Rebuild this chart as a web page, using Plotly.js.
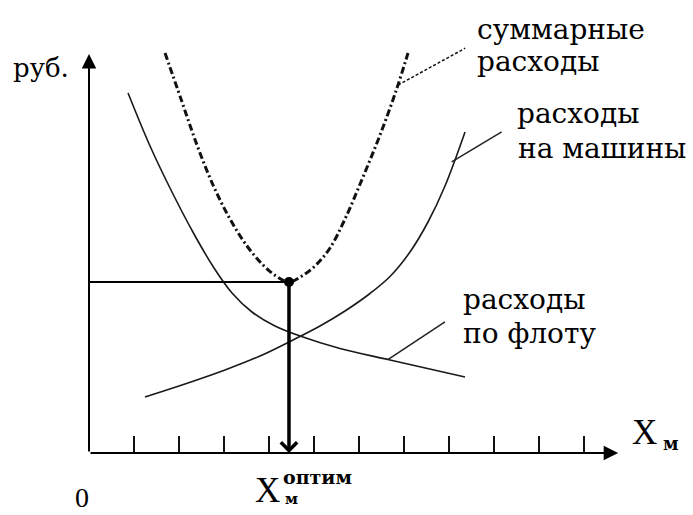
<!DOCTYPE html>
<html>
<head>
<meta charset="utf-8">
<script src="https://cdn.plot.ly/plotly-3.0.1.min.js"></script>
<style>html,body{margin:0;padding:0;background:#fff;}#chart{width:693px;height:515px;}</style>
</head>
<body>
<div id="chart"></div>
<script>
// ---- data (X_m in tick units, costs in rubles, arbitrary units) ----
const tickVals = [1, 2, 3, 4, 5, 6, 7, 8, 9, 10, 11];

const fleetX = [0.867, 1.356, 1.844, 2.333, 2.778, 3.178, 3.622, 4.133, 4.689, 5.578, 6.689, 8.356];
const fleetY = [90.0, 76.75, 65.25, 54.75, 46.25, 40.0, 35.25, 31.75, 29.25, 26.125, 23.25, 19.0];

const machX = [1.244, 2.133, 3.022, 3.8, 4.533, 5.133, 5.689, 6.244, 6.689, 7.133, 7.533, 7.911, 8.356];
const machY = [14.0, 17.25, 20.75, 24.25, 28.25, 31.75, 35.5, 39.875, 44.125, 50.25, 57.75, 66.75, 80.25];

const totalX = [1.689, 2.044, 2.4, 2.756, 3.133, 3.511, 3.867, 4.156, 4.444, 4.733, 5.044, 5.356, 5.689, 6.089, 6.467, 6.822, 7.089];
const totalY = [100.0, 88.5, 77.0, 67.0, 58.5, 51.75, 47.0, 44.25, 42.75, 44.25, 47.0, 51.25, 58.5, 69.0, 79.5, 90.5, 100.0];

const optX = [4.444];
const optY = [42.75];

const axisEnd = {x: 11.76, y: 99.75};

const leaderTotal = [[6.87, 92.0], [8.36, 101.2]];
const leaderMach = [[8.06, 72.8], [9.17, 80.3]];
const leaderFleet = [[6.65, 23.4], [7.91, 32.8]];

const labelTexts = ['суммарные', 'расходы', 'расходы', 'на машины', 'расходы', 'по флоту'];
const yLabel = 'руб.';
const xLabel = 'X';
const xSub = 'м';
const optSup = 'оптим';
const originLabel = '0';

// ---- layout geometry (pixels) ----
const W = 693, H = 515, L = 89, B = 62, T = 0, R = 0;
const plotW = W - L - R, plotH = H - T - B;
const pxX = px => (px - L) / plotW;
const pxY = py => (H - B - py) / plotH;

const lineCol = '#1a1a1a';

const traces = [
  {x: fleetX, y: fleetY, mode: 'lines', line: {color: lineCol, width: 1.6, shape: 'spline', smoothing: 1}, hoverinfo: 'skip'},
  {x: machX, y: machY, mode: 'lines', line: {color: lineCol, width: 1.6, shape: 'spline', smoothing: 1}, hoverinfo: 'skip'},
  {x: totalX, y: totalY, mode: 'lines', line: {color: '#111', width: 3, shape: 'spline', smoothing: 1, dash: '7px,3px,2px,3px'}, hoverinfo: 'skip'},
  {x: [0, optX[0]], y: [optY[0], optY[0]], mode: 'lines', line: {color: '#000', width: 2}, hoverinfo: 'skip'},
  {x: optX, y: optY, mode: 'markers', marker: {color: '#000', size: 10}, cliponaxis: false, hoverinfo: 'skip'}
];

const shapes = [
  {type: 'line', xref: 'x', yref: 'y', x0: leaderTotal[0][0], y0: leaderTotal[0][1], x1: leaderTotal[1][0], y1: leaderTotal[1][1], line: {color: '#111', width: 1.5, dash: '3px,2px'}},
  {type: 'line', xref: 'x', yref: 'y', x0: leaderMach[0][0], y0: leaderMach[0][1], x1: leaderMach[1][0], y1: leaderMach[1][1], line: {color: '#222', width: 1.5}},
  {type: 'line', xref: 'x', yref: 'y', x0: leaderFleet[0][0], y0: leaderFleet[0][1], x1: leaderFleet[1][0], y1: leaderFleet[1][1], line: {color: '#222', width: 1.5}}
];

const arrow = (x0, y0, x1, y1, w, head, size) => ({
  x: x1, y: y1, ax: x0, ay: y0, xref: 'x', yref: 'y', axref: 'x', ayref: 'y',
  text: '', showarrow: true, arrowhead: head, arrowsize: size, arrowwidth: w, arrowcolor: '#000', standoff: 0, startstandoff: 0
});

const txt = (t, px, py, size, family, bold, anchor, vanchor) => ({
  x: pxX(px), y: pxY(py), xref: 'paper', yref: 'paper', xanchor: anchor || 'left', yanchor: vanchor || 'middle',
  text: bold ? '<b>' + t + '</b>' : t, showarrow: false, borderpad: 0,
  font: {family: family, size: size, color: '#000'}
});

const serifLbl = 'DejaVu Serif';
const annotations = [
  arrow(0, 0, axisEnd.x, 0, 2, 2, 1.45),
  arrow(0, 0, 0, axisEnd.y, 2, 2, 1.45),
  arrow(optX[0], optY[0], optX[0], 0, 3.5, 4, 0.9),
  txt(labelTexts[0], 476, 29.5, 28, serifLbl),
  txt(labelTexts[1], 476, 61.5, 28, serifLbl),
  txt(labelTexts[2], 516, 113, 28, serifLbl),
  txt(labelTexts[3], 517, 148, 28, serifLbl),
  txt(labelTexts[4], 462, 299.5, 28, serifLbl),
  txt(labelTexts[5], 462, 333.5, 28, serifLbl),
  txt(yLabel, 12, 68, 26, serifLbl),
  txt(originLabel, 82, 514, 28, 'Liberation Serif', false, 'center', 'bottom'),
  txt(xLabel, 631, 432.5, 35, 'Liberation Serif'),
  txt(xSub, 662, 443, 18, serifLbl, true),
  txt(xLabel, 254, 490, 35, 'Liberation Serif'),
  txt(optSup, 282, 477, 19, serifLbl, true),
  txt(xSub, 284, 499, 15, serifLbl, true)
];

const layout = {
  width: W, height: H,
  margin: {l: L, r: R, t: T, b: B, pad: 0},
  paper_bgcolor: '#fff', plot_bgcolor: '#fff',
  showlegend: false,
  xaxis: {range: [0, plotW / 45], showgrid: false, zeroline: false, showline: false,
          ticks: 'inside', ticklen: 17, tickwidth: 2, tickcolor: '#111',
          tickmode: 'array', tickvals: tickVals, showticklabels: false, fixedrange: true},
  yaxis: {range: [0, plotH / 4], showgrid: false, zeroline: false, showline: false,
          ticks: '', showticklabels: false, fixedrange: true},
  shapes: shapes,
  annotations: annotations
};

Plotly.newPlot('chart', traces, layout, {staticPlot: true, displayModeBar: false});
</script>
</body>
</html>
